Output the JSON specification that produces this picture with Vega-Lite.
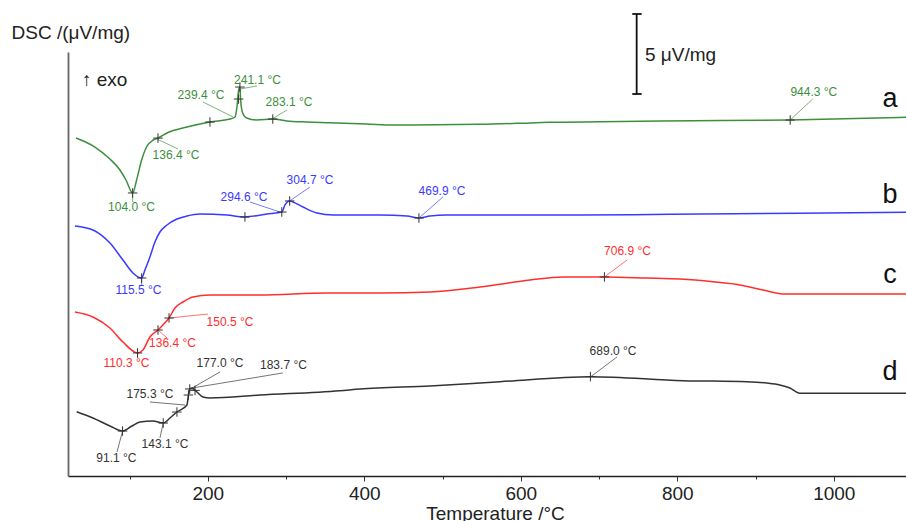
{
  "$schema": "https://vega.github.io/schema/vega-lite/v6.json",
  "width": 838,
  "height": 424,
  "autosize": {"type": "none"},
  "padding": {"left": 68, "top": 52, "right": 0, "bottom": 45},
  "background": "white",
  "config": {"view": {"stroke": null}, "font": "Liberation Sans"},
  "datasets": {
    "curves": [
      {"s":"a","T":31.6,"v":21.125},{"s":"a","T":55.8,"v":20.56},{"s":"a","T":75.0,"v":19.81},{"s":"a","T":87.8,"v":19.125},{"s":"a","T":95.5,"v":18.5},{"s":"a","T":104.0,"v":17.69},{"s":"a","T":109.1,"v":18.5},{"s":"a","T":115.5,"v":19.75},{"s":"a","T":121.9,"v":20.58},{"s":"a","T":130.3,"v":21.0},{"s":"a","T":136.4,"v":21.12},{"s":"a","T":147.9,"v":21.44},{"s":"a","T":173.4,"v":21.81},{"s":"a","T":202.8,"v":22.125},{"s":"a","T":228.4,"v":22.31},{"s":"a","T":234.8,"v":22.44},{"s":"a","T":237.3,"v":23.06},{"s":"a","T":239.5,"v":24.125},{"s":"a","T":241.1,"v":24.31},{"s":"a","T":242.0,"v":23.5},{"s":"a","T":244.6,"v":22.69},{"s":"a","T":249.7,"v":22.375},{"s":"a","T":262.5,"v":22.25},{"s":"a","T":283.1,"v":22.31},{"s":"a","T":300.8,"v":22.19},{"s":"a","T":326.4,"v":22.125},{"s":"a","T":356.2,"v":22.08},{"s":"a","T":403.5,"v":22.0},{"s":"a","T":436.7,"v":21.94},{"s":"a","T":547.9,"v":21.98},{"s":"a","T":595.2,"v":22.04},{"s":"a","T":637.3,"v":22.11},{"s":"a","T":701.2,"v":22.14},{"s":"a","T":820,"v":22.2},{"s":"a","T":944.3,"v":22.25},{"s":"a","T":1092.3,"v":22.42},
      {"s":"b","T":30.3,"v":15.625},{"s":"b","T":53.3,"v":15.375},{"s":"b","T":75.0,"v":14.56},{"s":"b","T":91.6,"v":13.5},{"s":"b","T":104.4,"v":12.69},{"s":"b","T":115.5,"v":12.375},{"s":"b","T":119.7,"v":12.875},{"s":"b","T":126.1,"v":13.69},{"s":"b","T":132.5,"v":14.625},{"s":"b","T":138.9,"v":15.25},{"s":"b","T":147.9,"v":15.69},{"s":"b","T":160.6,"v":16.06},{"s":"b","T":173.4,"v":16.25},{"s":"b","T":190,"v":16.375},{"s":"b","T":224.5,"v":16.31},{"s":"b","T":247.5,"v":16.19},{"s":"b","T":275.7,"v":16.375},{"s":"b","T":294.6,"v":16.5},{"s":"b","T":298.7,"v":16.94},{"s":"b","T":304.7,"v":17.19},{"s":"b","T":308.9,"v":17.125},{"s":"b","T":321.7,"v":16.81},{"s":"b","T":339.6,"v":16.44},{"s":"b","T":360,"v":16.31},{"s":"b","T":420.1,"v":16.31},{"s":"b","T":454.6,"v":16.25},{"s":"b","T":469.9,"v":16.125},{"s":"b","T":484,"v":16.25},{"s":"b","T":505.7,"v":16.31},{"s":"b","T":675.7,"v":16.31},{"s":"b","T":790.7,"v":16.36},{"s":"b","T":956.8,"v":16.42},{"s":"b","T":1092.3,"v":16.48},
      {"s":"c","T":30.3,"v":10.25},{"s":"c","T":53.3,"v":9.94},{"s":"c","T":75.0,"v":9.25},{"s":"c","T":91.6,"v":8.375},{"s":"c","T":110.3,"v":7.69},{"s":"c","T":117.2,"v":7.875},{"s":"c","T":126.1,"v":8.69},{"s":"c","T":136.4,"v":9.125},{"s":"c","T":142.7,"v":9.44},{"s":"c","T":150.5,"v":9.875},{"s":"c","T":158.1,"v":10.5},{"s":"c","T":168.3,"v":10.875},{"s":"c","T":181.1,"v":11.19},{"s":"c","T":202.8,"v":11.31},{"s":"c","T":266.7,"v":11.31},{"s":"c","T":352.3,"v":11.44},{"s":"c","T":420.1,"v":11.44},{"s":"c","T":484,"v":11.5},{"s":"c","T":547.9,"v":11.81},{"s":"c","T":611.8,"v":12.25},{"s":"c","T":653.9,"v":12.44},{"s":"c","T":706.9,"v":12.44},{"s":"c","T":761.3,"v":12.375},{"s":"c","T":803.5,"v":12.31},{"s":"c","T":845.6,"v":12.14},{"s":"c","T":880.2,"v":11.94},{"s":"c","T":909.5,"v":11.625},{"s":"c","T":935.1,"v":11.375},{"s":"c","T":1033.5,"v":11.375},{"s":"c","T":1092.3,"v":11.375},
      {"s":"d","T":32.5,"v":4.02},{"s":"d","T":53.3,"v":3.625},{"s":"d","T":75.0,"v":3.125},{"s":"d","T":91.1,"v":2.81},{"s":"d","T":103.1,"v":3.125},{"s":"d","T":113.4,"v":3.375},{"s":"d","T":130,"v":3.44},{"s":"d","T":143.1,"v":3.31},{"s":"d","T":151.7,"v":3.625},{"s":"d","T":160.6,"v":4.0},{"s":"d","T":173.4,"v":4.44},{"s":"d","T":175.3,"v":5.06},{"s":"d","T":177.0,"v":5.44},{"s":"d","T":179.8,"v":5.5},{"s":"d","T":186.2,"v":5.25},{"s":"d","T":193.9,"v":4.94},{"s":"d","T":202.8,"v":4.875},{"s":"d","T":266.7,"v":5.06},{"s":"d","T":368.9,"v":5.33},{"s":"d","T":394.5,"v":5.44},{"s":"d","T":484,"v":5.625},{"s":"d","T":573.4,"v":5.89},{"s":"d","T":689,"v":6.21},{"s":"d","T":807.2,"v":5.96},{"s":"d","T":889,"v":5.89},{"s":"d","T":914.4,"v":5.81},{"s":"d","T":931.1,"v":5.69},{"s":"d","T":943.9,"v":5.5},{"s":"d","T":956.7,"v":5.17},{"s":"d","T":1092.3,"v":5.17}
    ],
    "markers": [
      {"s":"a","T":104.0,"v":17.69},{"s":"a","T":136.4,"v":21.12},{"s":"a","T":202.8,"v":22.125},{"s":"a","T":239.4,"v":23.56},{"s":"a","T":241.1,"v":24.31},{"s":"a","T":283.1,"v":22.31},{"s":"a","T":944.3,"v":22.25},
      {"s":"b","T":115.5,"v":12.375},{"s":"b","T":247.5,"v":16.19},{"s":"b","T":294.6,"v":16.5},{"s":"b","T":304.7,"v":17.19},{"s":"b","T":469.9,"v":16.125},
      {"s":"c","T":110.3,"v":7.69},{"s":"c","T":136.4,"v":9.125},{"s":"c","T":150.5,"v":9.875},{"s":"c","T":706.9,"v":12.44},
      {"s":"d","T":91.1,"v":2.81},{"s":"d","T":143.1,"v":3.31},{"s":"d","T":160.6,"v":4.0},{"s":"d","T":175.3,"v":5.06},{"s":"d","T":177.0,"v":5.44},{"s":"d","T":183.7,"v":5.35},{"s":"d","T":689.0,"v":6.21}
    ],
    "labels": [
      {"s":"a","T":191.3,"v":23.81,"text":"239.4 °C"},{"s":"a","T":263.5,"v":24.75,"text":"241.1 °C"},{"s":"a","T":303.8,"v":23.375,"text":"283.1 °C"},{"s":"a","T":159.4,"v":20.06,"text":"136.4 °C"},{"s":"a","T":102.5,"v":16.81,"text":"104.0 °C"},{"s":"a","T":974.5,"v":23.97,"text":"944.3 °C"},
      {"s":"b","T":246.3,"v":17.44,"text":"294.6 °C"},{"s":"b","T":330.6,"v":18.5,"text":"304.7 °C"},{"s":"b","T":499.3,"v":17.84,"text":"469.9 °C"},{"s":"b","T":111.4,"v":11.625,"text":"115.5 °C"},
      {"s":"c","T":736.4,"v":14.09,"text":"706.9 °C"},{"s":"c","T":228.4,"v":9.625,"text":"150.5 °C"},{"s":"c","T":154.9,"v":8.31,"text":"136.4 °C"},{"s":"c","T":96.1,"v":7.06,"text":"110.3 °C"},
      {"s":"d","T":215.6,"v":7.06,"text":"177.0 °C"},{"s":"d","T":296.7,"v":6.94,"text":"183.7 °C"},{"s":"d","T":126.1,"v":5.125,"text":"175.3 °C"},{"s":"d","T":145.3,"v":2.0,"text":"143.1 °C"},{"s":"d","T":83.3,"v":1.125,"text":"91.1 °C"},{"s":"d","T":717.9,"v":7.84,"text":"689.0 °C"}
    ],
    "leaders": [
      {"s":"a","T":193.9,"v":23.375,"T2":232.2,"v2":22.44},{"s":"a","T":262.9,"v":24.375,"T2":241.2,"v2":24.19},{"s":"a","T":301.2,"v":22.875,"T2":282.0,"v2":22.31},{"s":"a","T":135.1,"v":21.06,"T2":161.9,"v2":20.44},{"s":"a","T":104.0,"v":17.69,"T2":104.0,"v2":17.125},{"s":"a","T":973.1,"v":23.56,"T2":944.3,"v2":22.25},
      {"s":"b","T":253.9,"v":17.125,"T2":292.3,"v2":16.5},{"s":"b","T":330.6,"v":18.06,"T2":304.7,"v2":17.19},{"s":"b","T":500.6,"v":17.44,"T2":469.9,"v2":16.125},{"s":"b","T":115.5,"v":12.375,"T2":115.5,"v2":11.94},
      {"s":"c","T":735.9,"v":13.5,"T2":706.9,"v2":12.44},{"s":"c","T":150.5,"v":9.875,"T2":200.3,"v2":10.125},{"s":"c","T":136.4,"v":9.125,"T2":148.0,"v2":8.625},{"s":"c","T":110.3,"v":7.69,"T2":110.3,"v2":7.375},
      {"s":"d","T":180.0,"v":5.5,"T2":215.6,"v2":6.5},{"s":"d","T":180.0,"v":5.5,"T2":296.0,"v2":6.44},{"s":"d","T":126.1,"v":4.625,"T2":170.9,"v2":4.4375},{"s":"d","T":143.1,"v":3.31,"T2":138.9,"v2":2.375},{"s":"d","T":91.1,"v":2.81,"T2":84.0,"v2":1.5},{"s":"d","T":723.0,"v":7.44,"T2":689.0,"v2":6.19}
    ],
    "letters": [
      {"T":1071.8,"v":23.06,"text":"a"},{"T":1071.8,"v":17.06,"text":"b"},{"T":1071.8,"v":12.06,"text":"c"},{"T":1071.8,"v":6.0,"text":"d"}
    ],
    "bar": [
      {"T":748.1,"v":23.875,"T2":748.1,"v2":28.875},{"T":742.5,"v":28.875,"T2":754.5,"v2":28.875},{"T":742.5,"v":23.875,"T2":754.5,"v2":23.875}
    ],
    "notes": [
      {"T":758.7,"v":25.94,"text":"5 μV/mg"},{"T":39.2,"v":24.375,"text":"↑ exo"}
    ]
  },
  "encoding": {
    "x": {"field": "T", "type": "quantitative", "scale": {"domain": [21.4, 1092.3], "nice": false, "zero": false},
      "axis": {"title": "Temperature /°C", "values": [100,200,300,400,500,600,700,800,900,1000], "format": "d",
        "labelExpr": "datum.value % 200 === 0 ? datum.label : ''",
        "tickSize": {"condition": {"test": "datum.value % 200 === 0", "value": 5}, "value": 3},
        "grid": false, "domainColor": "#222", "domainWidth": 1.3, "tickColor": "#333", "tickWidth": 1,
        "labelFontSize": 19, "labelColor": "#222", "labelPadding": 3, "labelFont": "Liberation Sans",
        "titleFontSize": 19, "titleFontWeight": "normal", "titleColor": "#222", "titleFont": "Liberation Sans",
        "titleBaseline": "alphabetic", "titleX": 427, "titleY": 43, "titleAnchor": null}},
    "y": {"field": "v", "type": "quantitative", "scale": {"domain": [0, 26.5], "nice": false, "zero": false},
      "axis": {"title": "DSC /(μV/mg)", "ticks": false, "labels": false, "grid": false, "domainColor": "#666", "domainWidth": 1.8,
        "titleAngle": 0, "titleAlign": "left", "titleBaseline": "alphabetic", "titleX": -57, "titleY": -14,
        "titleFontSize": 19, "titleFontWeight": "normal", "titleColor": "#222", "titleFont": "Liberation Sans"}}
  },
  "layer": [
    {"data": {"name": "curves"}, "mark": {"type": "line", "strokeWidth": 1.5, "interpolate": "monotone"},
      "encoding": {"color": {"field": "s", "type": "nominal", "scale": {"domain": ["a","b","c","d"], "range": ["#3c8f3c", "#3a3aff", "#ff2e2e", "#333333"]}, "legend": null}}},
    {"data": {"name": "leaders"}, "mark": {"type": "rule", "strokeWidth": 0.8, "opacity": 0.85},
      "encoding": {"x2": {"field": "T2"}, "y2": {"field": "v2"}, "color": {"field": "s", "type": "nominal", "legend": null}}},
    {"data": {"name": "markers"}, "mark": {"type": "point", "shape": "M-1,0L1,0M0,-1L0,1", "filled": false, "size": 90, "stroke": "#333", "strokeWidth": 1, "opacity": 1},
      "encoding": {}},
    {"data": {"name": "labels"}, "mark": {"type": "text", "fontSize": 12, "align": "center", "baseline": "middle", "font": "Liberation Sans"},
      "encoding": {"text": {"field": "text"}, "color": {"field": "s", "type": "nominal", "legend": null}}},
    {"data": {"name": "letters"}, "mark": {"type": "text", "fontSize": 27, "align": "center", "baseline": "alphabetic", "color": "#111", "font": "Liberation Sans"},
      "encoding": {"text": {"field": "text"}}},
    {"data": {"name": "bar"}, "mark": {"type": "rule", "strokeWidth": 1.8, "color": "#111"},
      "encoding": {"x2": {"field": "T2"}, "y2": {"field": "v2"}}},
    {"data": {"name": "notes"}, "mark": {"type": "text", "fontSize": 19, "align": "left", "baseline": "alphabetic", "color": "#222", "font": "Liberation Sans"},
      "encoding": {"text": {"field": "text"}}}
  ]
}
